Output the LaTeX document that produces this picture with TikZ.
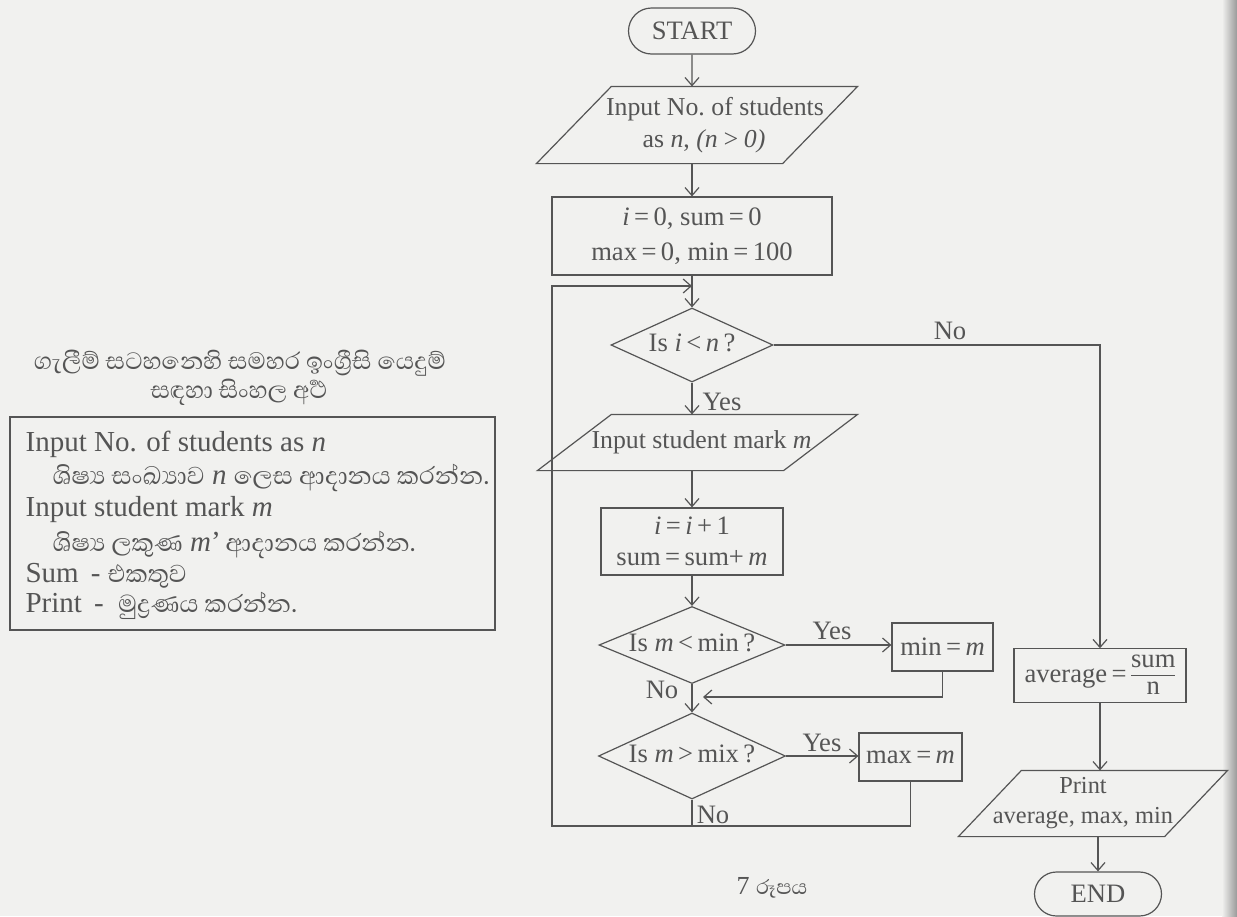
\documentclass[tikz,border=0pt]{standalone}
\usepackage{fontspec}
\setmainfont{Liberation Serif}
\newfontfamily\sifont[Script=Sinhala]{Abhaya Libre}
\usetikzlibrary{shapes.geometric,shapes.misc,arrows.meta,calc}
\definecolor{paper}{RGB}{241,241,239}
\definecolor{ink}{RGB}{85,85,85}
\newcommand\plgm[2]{\draw ($(#1.north west)+(#2,0)$) -- (#1.north east) -- ($(#1.south east)-(#2,0)$) -- (#1.south west) -- cycle;}
\newcommand\sib[1]{{\fontsize{15.7}{16}\selectfont\sifont #1}}
\newcommand\sibs[1]{\raisebox{0pt}[\height][0pt]{\sib{#1}}}
\newcommand\myfrac[2]{{\renewcommand\arraystretch{0.82}\begin{tabular}[c]{@{}c@{}}#1\\\hline #2\end{tabular}}}
\begin{document}
\begin{tikzpicture}[x=0.5pt,y=-0.5pt,line width=0.6pt,color=ink,
  fc/.style={font=\fontsize{13.3}{16}\selectfont,inner sep=0pt},
  term/.style={fc,draw,rounded rectangle,minimum width=63.5pt,minimum height=23pt},
  proc/.style={fc,draw,rectangle,align=center},
  dec/.style={fc,draw,diamond,text height=7pt,text depth=1pt},
  io/.style={fc,align=center,font=\fontsize{12.9}{16}\selectfont},
  lbl/.style={fc},
  boxtxt/.style={font=\fontsize{14.5}{16}\selectfont,inner sep=0pt,anchor=base west},
  arr/.style={-{Straight Barb[length=4pt,width=7pt]}}]
\fill[paper] (0,0) rectangle (1237,916);
\useasboundingbox (0,0) rectangle (1237,916);
\shade[left color=paper,right color=black!40,draw=none] (1222,0) rectangle (1237,916);

% flowchart nodes
\node[term] (start) at (692,31) {START};
\node[io,minimum width=160pt,minimum height=38pt] (p1) at (697,125) {\hspace*{18pt}Input No.\ of students\\\hspace*{7pt}as \textit{n}, \textit{(n\,>\,0)}};
\plgm{p1}{75}
\node[proc,minimum width=140pt,minimum height=39pt,font=\fontsize{13.3}{17.5}\selectfont] (r1) at (692,236) {\textit{i}\,=\,0, sum\,=\,0\\max\,=\,0, min\,=\,100};
\node[dec,minimum width=81pt,minimum height=37pt,shape aspect=2.19] (d1) at (692,345) {Is \textit{i}\,<\,\textit{n}\,?};
\node[lbl] (no1) at (950,331) {No};
\node[lbl] (yes1) at (722,402) {Yes};
\node[io,minimum width=159.5pt,minimum height=27.5pt] (p2) at (697.5,442.5) {\hspace*{4pt}Input student mark \textit{m}};
\plgm{p2}{74}
\node[proc,minimum width=91pt,minimum height=33.5pt,font=\fontsize{13.3}{15.5}\selectfont] (r2) at (692,541.5) {\textit{i}\,=\,\textit{i}\,+\,1\\sum\,=\,sum+\,\textit{m}};
\node[dec,minimum width=93pt,minimum height=38.5pt,shape aspect=2.4] (d2) at (692,645) {Is \textit{m}\,<\,min\,?};
\node[proc,minimum width=50.5pt,minimum height=24pt] (mn) at (942.5,647) {min\,=\,\textit{m}};
\node[lbl] (yes2) at (832,631) {Yes};
\node[lbl] (no2) at (662,690) {No};
\node[dec,minimum width=93.5pt,minimum height=43pt,shape aspect=2.2] (d3) at (692,756) {Is \textit{m}\,>\,mix\,?};
\node[proc,minimum width=51.5pt,minimum height=24pt] (mx) at (910.5,757) {max\,=\,\textit{m}};
\node[lbl] (yes3) at (822,743) {Yes};
\node[lbl] (no3) at (713,815) {No};
\node[proc,minimum width=86pt,minimum height=26.5pt] (avg) at (1100,675.5) {average\,=\,\myfrac{sum}{n}};
\node[io,minimum width=134pt,minimum height=32.5pt,font=\fontsize{12.2}{15}\selectfont] (p3) at (1093,803.5) {Print\hspace*{10pt}\\average, max, min\hspace*{10pt}};
\plgm{p3}{63}
\node[term,minimum height=22pt] (stop) at (1098,894) {END};

% connectors
\coordinate (lt) at (552,286);
\coordinate (lb) at (552,826);
\coordinate (mret) at (703,697);
\draw[arr] (start) -- (start |- p1.north);
\draw[arr] (r1.north |- p1.south) -- (r1.north);
\draw[arr] (r1) -- (d1);
\draw[arr] (d1.east) -| (avg.north);
\draw[arr] (d1.south) -- (d1.south |- p2.north);
\draw[arr] (r2.north |- p2.south) -- (r2.north);
\draw[arr] (r2) -- (d2);
\draw[arr] (d2.east) -- (mn.west |- d2.east);
\draw[arr] (mn.south) |- (mret);
\draw[arr] (d2) -- (d3);
\draw[arr] (d3.east) -- (mx.west |- d3.east);
\draw[arr] (d3.south) -- (d3.south |- lb) -- (lb) -- (lt) -- (d1.north |- lt);
\draw (mx.south) |- (d3.south |- lb);
\draw[arr] (avg.south) -- (avg.south |- p3.north);
\draw[arr] (stop.north |- p3.south) -- (stop.north);

% glossary
\node[font=\fontsize{15.2}{16}\selectfont\sifont,inner sep=0pt] (h1) at (240,363) {ගැලීම් සටහනෙහි සමහර ඉංග්^^^^200dරීසි යෙදුම්};
\node[font=\fontsize{15.2}{16}\selectfont\sifont,inner sep=0pt] (h2) at (239,392) {සඳහා සිංහල අර්^^^^200dථ};
\node[draw,minimum width=242.5pt,minimum height=106.5pt,inner sep=0pt] (box) at (252.5,523.5) {};
\node[boxtxt] (l1) at (25,451) {Input No. of students as \textit{n}};
\node[boxtxt] (l2) at (52,484) {\sib{ශිෂ්^^^^200dය සංඛ්^^^^200dයාව} \textit{n} \sib{ලෙස ආදානය කරන්න.}};
\node[boxtxt] (l3) at (25,516) {Input student mark \textit{m}};
\node[boxtxt] (l4) at (52,551) {\sib{ශිෂ්^^^^200dය ලකුණ} \textit{m}'\,\sib{ආදානය කරන්න.}};
\node[boxtxt] (l5) at (25,582) {Sum \,- \sibs{එකතුව}};
\node[boxtxt] (l6) at (25,612) {Print \,- \ \sib{මුද්^^^^200dරණය කරන්න.}};

\node[font=\fontsize{13}{14}\selectfont,inner sep=0pt] (cap) at (772,888) {7 {\sifont රූපය}};
\end{tikzpicture}
\end{document}
